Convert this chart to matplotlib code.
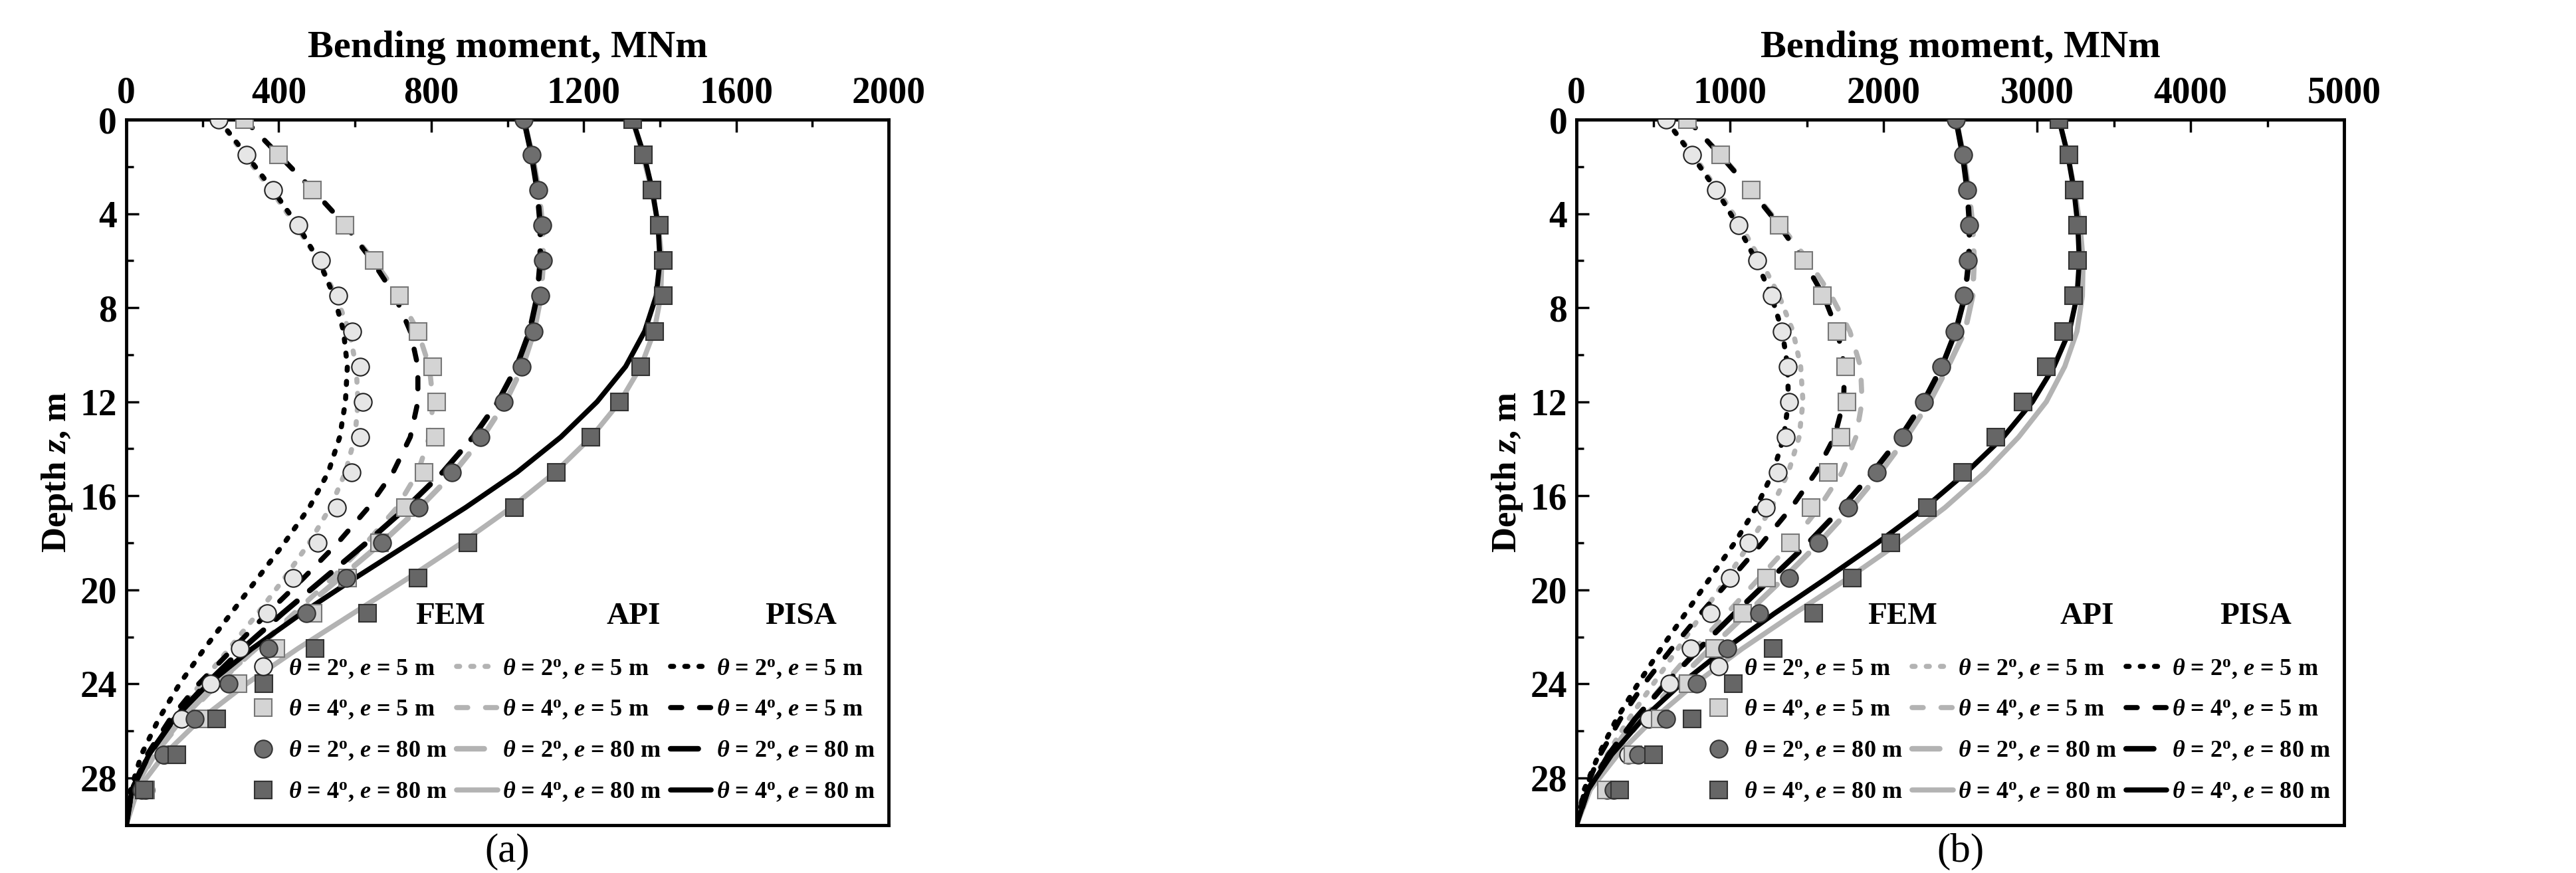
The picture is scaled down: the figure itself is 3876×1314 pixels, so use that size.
import numpy as np
import matplotlib.pyplot as plt
from matplotlib.lines import Line2D

plt.rcParams["font.family"] = ["Liberation Serif", "DejaVu Serif"]
plt.rcParams["font.weight"] = "bold"
plt.rcParams["mathtext.fontset"] = "custom"
plt.rcParams["mathtext.it"] = "Liberation Serif:italic:bold"
plt.rcParams["mathtext.rm"] = "Liberation Serif:bold"

# FEM sample depths (m)
z_fem = [0, 1.5, 3, 4.5, 6, 7.5, 9, 10.5, 12, 13.5, 15, 16.5, 18, 19.5, 21, 22.5, 24, 25.5, 27, 28.5]
# analytical curve depths (m)
z_line = z_fem + [30]

# ---- panel (a): FEM
a_fem_2_5 = [243, 315, 385, 451, 511, 557, 592, 614, 621, 614, 591, 553, 502, 437, 369, 298, 221, 145, 100, 50]
a_fem_4_5 = [310, 400, 489, 574, 650, 717, 766, 803, 815, 810, 781, 732, 664, 580, 490, 393, 293, 196, 120, 50]
a_fem_2_80 = [1043, 1064, 1081, 1091, 1093, 1086, 1069, 1037, 991, 929, 854, 768, 672, 577, 473, 374, 269, 179, 97, 40]
a_fem_4_80 = [1328, 1357, 1379, 1399, 1409, 1409, 1386, 1350, 1294, 1219, 1128, 1018, 897, 766, 633, 495, 361, 237, 133, 48]
# ---- panel (a): API
a_api_2_5 = [243, 310, 380, 445, 505, 550, 585, 603, 608, 600, 575, 535, 480, 415, 345, 270, 195, 125, 65, 20, 0]
a_api_4_5 = [310, 400, 490, 575, 650, 715, 765, 795, 805, 795, 765, 710, 630, 540, 440, 340, 240, 150, 75, 22, 0]
a_api_2_80 = [1043, 1065, 1082, 1092, 1094, 1088, 1070, 1040, 995, 935, 860, 770, 670, 560, 450, 340, 235, 145, 72, 20, 0]
a_api_4_80 = [1328, 1355, 1378, 1396, 1405, 1402, 1385, 1350, 1295, 1220, 1125, 1010, 880, 740, 595, 450, 315, 195, 100, 30, 0]
# ---- panel (a): PISA
a_pisa_2_5 = [243, 315, 385, 450, 505, 545, 570, 580, 575, 560, 530, 480, 415, 345, 275, 205, 140, 85, 40, 12, 0]
a_pisa_4_5 = [310, 400, 490, 575, 645, 705, 745, 765, 765, 745, 700, 635, 555, 465, 370, 280, 190, 115, 55, 15, 0]
a_pisa_2_80 = [1043, 1063, 1078, 1086, 1086, 1078, 1058, 1024, 975, 910, 830, 735, 630, 520, 410, 305, 210, 125, 60, 15, 0]
a_pisa_4_80 = [1328, 1358, 1380, 1395, 1400, 1390, 1360, 1310, 1235, 1140, 1025, 890, 745, 600, 460, 330, 215, 125, 60, 15, 0]

# ---- panel (b): FEM
b_fem_2_5 = [582, 753, 909, 1055, 1175, 1271, 1339, 1378, 1385, 1364, 1310, 1232, 1122, 998, 874, 746, 607, 472, 337, 200]
b_fem_4_5 = [724, 937, 1136, 1321, 1481, 1602, 1697, 1754, 1761, 1722, 1641, 1527, 1392, 1236, 1080, 902, 728, 547, 366, 195]
b_fem_2_80 = [2472, 2518, 2546, 2560, 2550, 2525, 2464, 2376, 2262, 2124, 1957, 1768, 1577, 1385, 1190, 980, 785, 586, 401, 241]
b_fem_4_80 = [3143, 3207, 3242, 3264, 3264, 3239, 3171, 3058, 2908, 2731, 2514, 2287, 2049, 1797, 1545, 1282, 1019, 753, 501, 281]
# ---- panel (b): API
b_api_2_5 = [582, 760, 920, 1070, 1200, 1320, 1410, 1460, 1475, 1450, 1380, 1270, 1130, 980, 820, 660, 500, 340, 200, 70, 0]
b_api_4_5 = [724, 940, 1140, 1330, 1510, 1660, 1780, 1850, 1860, 1820, 1730, 1580, 1400, 1190, 980, 770, 570, 380, 215, 75, 0]
b_api_2_80 = [2472, 2520, 2555, 2580, 2590, 2580, 2530, 2420, 2300, 2150, 1980, 1790, 1580, 1350, 1110, 870, 640, 430, 240, 85, 0]
b_api_4_80 = [3143, 3200, 3245, 3280, 3300, 3295, 3260, 3180, 3060, 2880, 2660, 2400, 2100, 1770, 1420, 1080, 770, 500, 270, 90, 0]
# ---- panel (b): PISA
b_pisa_2_5 = [582, 750, 910, 1050, 1170, 1270, 1340, 1375, 1380, 1350, 1280, 1170, 1030, 870, 710, 550, 400, 260, 145, 50, 0]
b_pisa_4_5 = [724, 935, 1135, 1320, 1480, 1610, 1700, 1745, 1740, 1680, 1560, 1400, 1210, 1010, 810, 620, 440, 285, 155, 55, 0]
b_pisa_2_80 = [2472, 2515, 2545, 2560, 2555, 2530, 2470, 2380, 2260, 2110, 1930, 1730, 1510, 1270, 1030, 800, 580, 380, 210, 75, 0]
b_pisa_4_80 = [3143, 3200, 3240, 3265, 3275, 3260, 3210, 3110, 2970, 2780, 2540, 2270, 1960, 1630, 1290, 970, 680, 430, 230, 75, 0]

case_labels = [r"$\theta$ = 2$^\mathrm{o}$, $e$ = 5 m", r"$\theta$ = 4$^\mathrm{o}$, $e$ = 5 m",
               r"$\theta$ = 2$^\mathrm{o}$, $e$ = 80 m", r"$\theta$ = 4$^\mathrm{o}$, $e$ = 80 m"]

GRAY = "#b3b3b3"
fem_styles = [
    dict(marker="o", mfc="#e6e6e6", mec="#222222"),
    dict(marker="s", mfc="#d4d4d4", mec="#777777"),
    dict(marker="o", mfc="#6e6e6e", mec="#333333"),
    dict(marker="s", mfc="#666666", mec="#333333"),
]
line_styles = [
    dict(lw=5.5, ls=(0, (0.6, 2.2))),
    dict(lw=5.5, ls=(0, (2.2, 3.5))),
    dict(lw=6, ls=(0, (5, 3))),
    dict(lw=5.5, ls="-"),
]


def draw_panel(ax, fem, api, pisa, xmax, xstep, tag):
    for vals, st in zip(fem, fem_styles):
        ax.plot(vals, z_fem, ls="none", ms=19, mew=1.5, zorder=3, **st)
    for vals, st in zip(api, line_styles):
        ax.plot(vals, z_line, color=GRAY, dash_capstyle="round", solid_capstyle="round", zorder=2, **st)
    for vals, st in zip(pisa, line_styles):
        ax.plot(vals, z_line, color="black", dash_capstyle="round", solid_capstyle="round", zorder=2, **st)

    ax.set_xlim(0, xmax)
    ax.set_ylim(30, 0)
    ax.set_xticks(np.arange(0, xmax + 1, xstep))
    ax.set_xticks(np.arange(0, xmax + 1, xstep / 2), minor=True)
    ax.set_yticks(np.arange(0, 29, 4))
    ax.set_yticks(np.arange(0, 30, 2), minor=True)
    ax.xaxis.tick_top()
    ax.xaxis.set_label_position("top")
    ax.tick_params(which="both", direction="in", labelsize=40, width=2.5, pad=10)
    ax.tick_params(which="major", length=14)
    ax.tick_params(which="minor", length=8)
    for sp in ax.spines.values():
        sp.set_linewidth(3.5)
    ax.set_xlabel("Bending moment, MNm", fontsize=42, fontweight="bold", labelpad=20)
    ax.set_ylabel(r"Depth $z$, m", fontsize=38, fontweight="bold", labelpad=6)
    ax.text(0.5, -0.038, tag, transform=ax.transAxes, ha="center", va="center", fontsize=44,
            fontweight="normal")

    # three-column legend with headers
    handles = []
    for st in fem_styles:
        handles.append(Line2D([], [], ls="none", ms=19, mew=1.5, **st))
    for st in line_styles:
        handles.append(Line2D([], [], color=GRAY, dash_capstyle="round", solid_capstyle="round", **st))
    for st in line_styles:
        handles.append(Line2D([], [], color="black", dash_capstyle="round", solid_capstyle="round", **st))
    leg = ax.legend(handles, case_labels * 3, ncol=3, loc="lower right", bbox_to_anchor=(1.01, 0.0),
                    frameon=False, fontsize=26, handlelength=1.7, handletextpad=0.2,
                    columnspacing=0.4, labelspacing=0.75)
    for t in leg.get_texts():
        t.set_fontweight("bold")
    for x, h in zip([0.425, 0.665, 0.885], ["FEM", "API", "PISA"]):
        ax.text(x, 0.285, h, transform=ax.transAxes, ha="center", fontsize=34, fontweight="bold")


fig = plt.figure(figsize=(38.76, 13.14), dpi=100)
ax1 = fig.add_axes([0.049, 0.055, 0.296, 0.808])
ax2 = fig.add_axes([0.612, 0.055, 0.298, 0.808])

draw_panel(ax1, [a_fem_2_5, a_fem_4_5, a_fem_2_80, a_fem_4_80],
           [a_api_2_5, a_api_4_5, a_api_2_80, a_api_4_80],
           [a_pisa_2_5, a_pisa_4_5, a_pisa_2_80, a_pisa_4_80], 2000, 400, "(a)")
draw_panel(ax2, [b_fem_2_5, b_fem_4_5, b_fem_2_80, b_fem_4_80],
           [b_api_2_5, b_api_4_5, b_api_2_80, b_api_4_80],
           [b_pisa_2_5, b_pisa_4_5, b_pisa_2_80, b_pisa_4_80], 5000, 1000, "(b)")

fig.savefig("out.png", dpi=100)
